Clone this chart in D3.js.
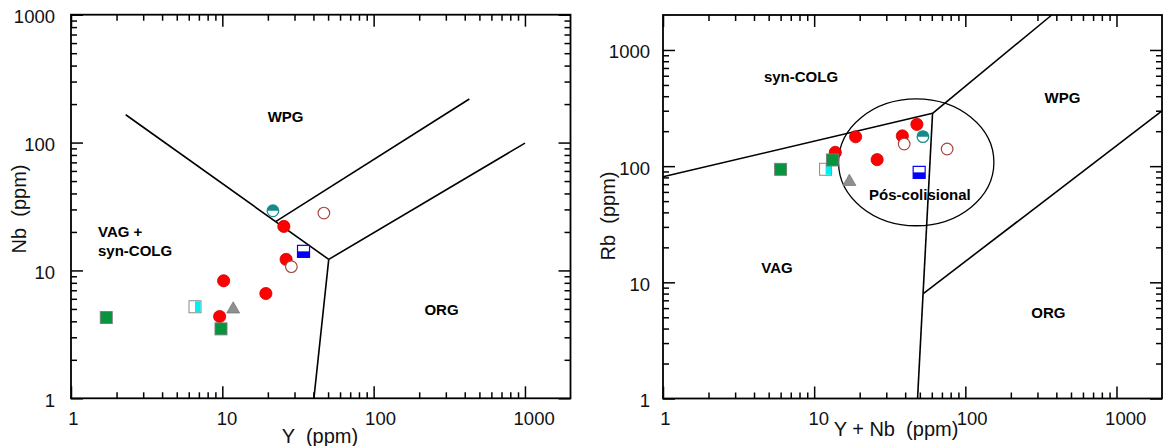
<!DOCTYPE html>
<html>
<head>
<meta charset="utf-8">
<script src="https://cdn.jsdelivr.net/npm/d3@7"></script>
<style>
  html, body { margin: 0; padding: 0; background: #fff; }
  svg { display: block; font-family: "Liberation Sans", Arial, sans-serif; }
</style>
</head>
<body>
<svg id="chart" width="1165" height="446"></svg>
<script>
// ---------------- DATA ----------------
const sampleSymbols = ["red", "red", "red", "red", "red", "brownOpen", "brownOpen", "tealHalf", "blueHalf", "cyanHalf", "grayTri", "green", "green"];
const yPpm    = [25.5, 26.4, 10.2, 19.4, 9.6, 46.9, 28.6, 21.6, 34.4, 6.6, 11.8, 1.71, 9.8];
const nbPpm   = [22.1, 12.2, 8.3, 6.6, 4.36, 28.1, 10.7, 29.3, 14.1, 5.2, 4.97, 4.28, 3.49];
const yNbPpm  = [47.8, 38.3, 18.8, 26.1, 13.8, 75.8, 39.4, 52.4, 49.5, 11.9, 17.1, 6.0, 13.2];
const rbPpm   = [229, 182, 179, 113.7, 131.5, 140.5, 155, 179.5, 88.4, 94, 73.5, 93.9, 113];

const xTickLabels = ["1", "10", "100", "1000"];
const leftYTickLabels = ["1", "10", "100", "1000"];
const rightYTickLabels = ["1", "10", "100", "1000"];

// Pearce et al. boundaries, Nb vs Y
const nbYBoundaries = [
  [[2.3, 165], [50.5, 12.2]],
  [[50.5, 12.2], [40.3, 1]],
  [[50.5, 12.2], [1000, 99]],
  [[22.5, 24.1], [429, 219]]
];
// Rb vs Y+Nb
const rbBoundaries = [
  [[1, 81], [60.7, 285]],
  [[60.7, 285], [373, 2000]],
  [[60.7, 285], [48.3, 1]],
  [[52.7, 8.0], [2000, 298.5]]
];
// Post-collisional field (data extents)
const postColXExtent = [14.5, 154.5];
const postColYExtent = [30.7, 379];

const leftRegionNames = ["WPG", "VAG +", "syn-COLG", "ORG"];
const leftRegionAt = [[26.2, 144.6], [1.508, 18.2], [1.508, 12.96], [281, 4.48]];
const rightRegionNames = ["syn-COLG", "WPG", "VAG", "ORG", "Pós-colisional"];
const rightRegionAt = [[8.18, 535], [439, 349], [5.68, 12.0], [354, 4.93], [50.1, 51.6]];

// ---------------- DRAW ----------------
const svg = d3.select("#chart");

const xL = d3.scaleLog().domain([1, 2000]).range([71, 570.5]);
const yL = d3.scaleLog().domain([1, 1000]).range([398.3, 14.7]);
const xR = d3.scaleLog().domain([1, 2000]).range([663, 1162]);
const yR = d3.scaleLog().domain([1, 2000]).range([398.5, 15]);

function tickSets(domain) {
  const major = [], minor = [];
  for (let k = 0; k <= 4; k++) {
    for (let m = 1; m <= 9; m++) {
      const v = m * Math.pow(10, k);
      if (v < domain[0] - 1e-9 || v > domain[1] + 1e-9) continue;
      if (m === 1) major.push(v); else if (v < domain[1] - 1e-9) minor.push(v);
    }
  }
  return { major, minor };
}

function drawFrame(g, x, y) {
  const [x0, x1] = x.range();
  const [yb, yt] = y.range();
  const tx = tickSets(x.domain());
  const ty = tickSets(y.domain());
  const specs = [
    [d3.axisBottom, x, `translate(0,${yb})`, tx],
    [d3.axisTop, x, `translate(0,${yt})`, tx],
    [d3.axisLeft, y, `translate(${x0},0)`, ty],
    [d3.axisRight, y, `translate(${x1},0)`, ty]
  ];
  specs.forEach(([ax, sc, tr, t]) => {
    [[t.major, 12], [t.minor, 6]].forEach(([vals, len]) => {
      const a = g.append("g").attr("transform", tr)
        .call(ax(sc).tickValues(vals).tickSizeInner(-len).tickSizeOuter(0).tickFormat(""));
      a.select(".domain").remove();
      a.selectAll("line").attr("stroke", "#000").attr("stroke-width", 1.5);
    });
  });
  g.append("rect")
    .attr("x", x0).attr("y", yt).attr("width", x1 - x0).attr("height", yb - yt)
    .attr("fill", "none").attr("stroke", "#000").attr("stroke-width", 1.8);
}

function drawTickLabels(g, x, y, xLabels, yLabels, yLabelRight, xBase) {
  const xt = tickSets(x.domain()).major;
  g.selectAll(null).data(xt).enter().append("text")
    .attr("x", (d, i) => x(d) + 2.3 * xLabels[i].length)
    .attr("y", xBase)
    .attr("text-anchor", "middle")
    .attr("font-size", 18.5).attr("fill", "#111")
    .text((d, i) => xLabels[i]);
  const yt = tickSets(y.domain()).major;
  g.selectAll(null).data(yt).enter().append("text")
    .attr("x", yLabelRight)
    .attr("y", d => y(d) + 8.5)
    .attr("text-anchor", "end")
    .attr("font-size", 18.5).attr("fill", "#111")
    .text((d, i) => yLabels[i]);
}

function drawBoundaries(g, x, y, segs) {
  const line = d3.line().x(d => x(d[0])).y(d => y(d[1]));
  g.selectAll(null).data(segs).enter().append("path")
    .attr("d", line).attr("fill", "none").attr("stroke", "#000").attr("stroke-width", 1.6);
}

function drawMarker(g, type, cx, cy) {
  const r = 6.1, s = 12;
  if (type === "red") {
    g.append("circle").attr("cx", cx).attr("cy", cy).attr("r", r)
      .attr("fill", "#ff0000").attr("stroke", "#d00000").attr("stroke-width", 0.8);
  } else if (type === "brownOpen") {
    g.append("circle").attr("cx", cx).attr("cy", cy).attr("r", r - 0.3)
      .attr("fill", "#fff").attr("stroke", "#a6473f").attr("stroke-width", 1.2);
  } else if (type === "tealHalf") {
    g.append("circle").attr("cx", cx).attr("cy", cy).attr("r", r - 0.3)
      .attr("fill", "#fff").attr("stroke", "#168a8a").attr("stroke-width", 1.2);
    g.append("path")
      .attr("d", `M${cx - r + 0.3},${cy} A${r - 0.3},${r - 0.3} 0 0 1 ${cx + r - 0.3},${cy} Z`)
      .attr("fill", "#168a8a");
  } else if (type === "blueHalf") {
    g.append("rect").attr("x", cx - s / 2).attr("y", cy - s / 2).attr("width", s).attr("height", s)
      .attr("fill", "#fff").attr("stroke", "#0000ff").attr("stroke-width", 1.2);
    g.append("rect").attr("x", cx - s / 2).attr("y", cy).attr("width", s).attr("height", s / 2)
      .attr("fill", "#0000ff");
  } else if (type === "cyanHalf") {
    g.append("rect").attr("x", cx - s / 2).attr("y", cy - s / 2).attr("width", s).attr("height", s)
      .attr("fill", "#fff").attr("stroke", "#8a8a8a").attr("stroke-width", 1);
    g.append("rect").attr("x", cx).attr("y", cy - s / 2 + 0.5).attr("width", s / 2 - 0.5).attr("height", s - 1)
      .attr("fill", "#00f0f0");
  } else if (type === "grayTri") {
    g.append("path").attr("transform", `translate(${cx},${cy})`)
      .attr("d", d3.symbol().type(d3.symbolTriangle).size(72)())
      .attr("fill", "#8f8f8f").attr("stroke", "#777").attr("stroke-width", 0.8);
  } else if (type === "green") {
    g.append("rect").attr("x", cx - s / 2).attr("y", cy - s / 2).attr("width", s).attr("height", s)
      .attr("fill", "#07943f").attr("stroke", "#7a7a7a").attr("stroke-width", 0.9);
  }
}

function drawRegionLabels(g, x, y, names, at, anchors) {
  names.forEach((n, i) => {
    g.append("text")
      .attr("x", x(at[i][0])).attr("y", y(at[i][1]))
      .attr("text-anchor", anchors[i])
      .attr("font-size", 15).attr("font-weight", "bold").attr("fill", "#000")
      .text(n);
  });
}

// ---- Left panel: Nb vs Y ----
const gL = svg.append("g");
drawFrame(gL, xL, yL);
drawTickLabels(gL, xL, yL, xTickLabels, leftYTickLabels, 55, 425);
drawBoundaries(gL, xL, yL, nbYBoundaries);
drawRegionLabels(gL, xL, yL, leftRegionNames, leftRegionAt, ["middle", "start", "start", "middle"]);
sampleSymbols.forEach((t, i) => drawMarker(gL, t, xL(yPpm[i]), yL(nbPpm[i])));
gL.append("text").attr("x", 320).attr("y", 443).attr("text-anchor", "middle")
  .attr("font-size", 20).attr("fill", "#111").attr("xml:space", "preserve").text("Y  (ppm)");
gL.append("text").attr("transform", "translate(26,209) rotate(-90)").attr("text-anchor", "middle")
  .attr("font-size", 20).attr("fill", "#111").attr("xml:space", "preserve").text("Nb  (ppm)");

// ---- Right panel: Rb vs Y+Nb ----
const gR = svg.append("g");
drawFrame(gR, xR, yR);
drawTickLabels(gR, xR, yR, xTickLabels, rightYTickLabels, 650, 425);
drawBoundaries(gR, xR, yR, rbBoundaries);
{
  const ex0 = xR(postColXExtent[0]), ex1 = xR(postColXExtent[1]);
  const ey0 = yR(postColYExtent[0]), ey1 = yR(postColYExtent[1]);
  gR.append("ellipse")
    .attr("cx", (ex0 + ex1) / 2).attr("cy", (ey0 + ey1) / 2)
    .attr("rx", Math.abs(ex1 - ex0) / 2).attr("ry", Math.abs(ey1 - ey0) / 2)
    .attr("fill", "none").attr("stroke", "#000").attr("stroke-width", 1.3);
}
drawRegionLabels(gR, xR, yR, rightRegionNames, rightRegionAt, ["middle", "middle", "middle", "middle", "middle"]);
sampleSymbols.forEach((t, i) => drawMarker(gR, t, xR(yNbPpm[i]), yR(rbPpm[i])));
gR.append("text").attr("x", 896).attr("y", 436).attr("text-anchor", "middle")
  .attr("font-size", 20).attr("fill", "#111").attr("xml:space", "preserve").text("Y + Nb  (ppm)");
gR.append("text").attr("transform", "translate(615,216) rotate(-90)").attr("text-anchor", "middle")
  .attr("font-size", 20).attr("fill", "#111").attr("xml:space", "preserve").text("Rb  (ppm)");
</script>
</body>
</html>
